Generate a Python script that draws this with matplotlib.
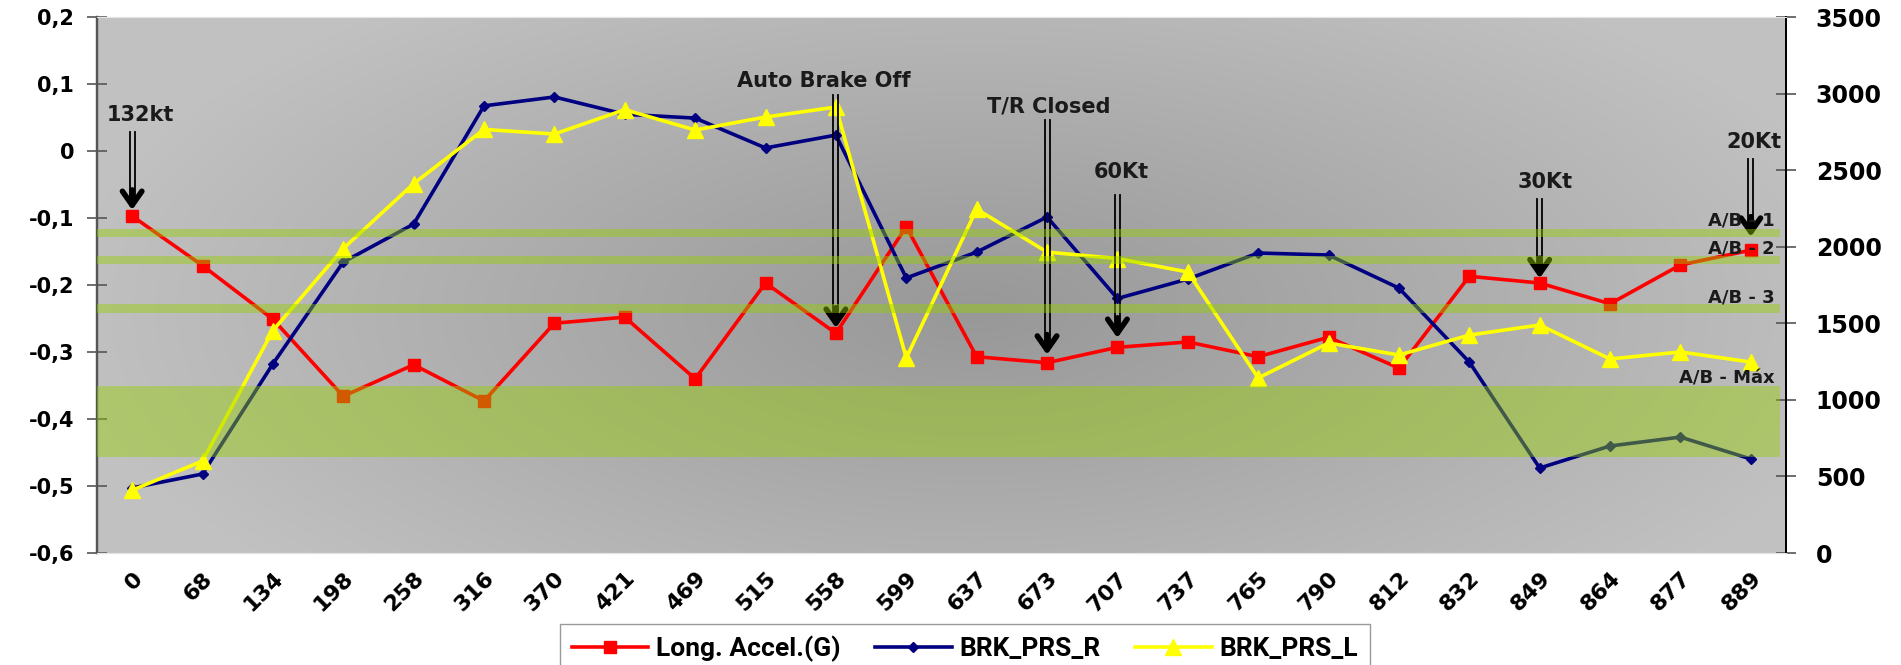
import numpy as np
import matplotlib
matplotlib.use('Agg')
from matplotlib import pyplot as plt
from matplotlib.patches import Rectangle
from matplotlib.transforms import blended_transform_factory, offset_copy

cats = ['0', '68', '134', '198', '258', '316', '370', '421', '469', '515', '558', '599',
        '637', '673', '707', '737', '765', '790', '812', '832', '849', '864', '877', '889']
long_accel = [-0.097, -0.171, -0.251, -0.366, -0.319, -0.373, -0.257, -0.248, -0.340, -0.197,
              -0.272, -0.113, -0.307, -0.316, -0.293, -0.285, -0.307, -0.278, -0.324, -0.187,
              -0.197, -0.228, -0.170, -0.148]
brk_prs_r = [425, 516, 1235, 1900, 2148, 2920, 2978, 2865, 2840, 2645, 2729, 1796,
             1965, 2194, 1662, 1789, 1959, 1946, 1730, 1247, 555, 699, 757, 614]
brk_prs_l = [410, 601, 1453, 1988, 2412, 2766, 2736, 2895, 2762, 2847, 2912, 1273,
             2246, 1965, 1923, 1835, 1143, 1371, 1293, 1423, 1489, 1267, 1313, 1247]

# A/B bands on the acceleration axis (low, high)
bands = [(-0.128, -0.1164), (-0.169, -0.157), (-0.242, -0.229), (-0.457, -0.351)]
band_labels = ['A/B - 1', 'A/B - 2', 'A/B - 3', 'A/B - Máx']
band_label_y = [-0.103, -0.145, -0.218, -0.340]

# event arrows: label, category index, text y, arrow top, arrow tip
events = [('132kt', 0, 0.054, 0.028, -0.088),
          ('Auto Brake Off', 10, 0.104, 0.084, -0.264),
          ('T/R Closed', 13, 0.067, 0.046, -0.304),
          ('60Kt', 14, -0.031, -0.066, -0.279),
          ('30Kt', 20, -0.046, -0.072, -0.190),
          ('20Kt', 23, 0.013, -0.012, -0.128)]
text_dx = [0.12, -0.17, 0.03, 0.06, 0.08, 0.05]

fig = plt.figure(figsize=(19.01, 6.65), dpi=100)
ax1 = fig.add_axes([0.051, 0.1684, 0.8885, 0.806])
ax2 = ax1.twinx()
x = np.arange(len(cats))

# radial grey background
gx, gy = np.meshgrid(np.linspace(0, 1, 300), np.linspace(0, 1, 120))
r = np.sqrt(((gx - 0.52) / 0.55) ** 2 + ((gy - 0.55) / 0.75) ** 2)
g = 0.595 + 0.165 * np.clip(r, 0, 1)
ax1.imshow(np.dstack([g, g, g]), extent=[0, 1, 0, 1], transform=ax1.transAxes,
           aspect='auto', zorder=0, interpolation='bilinear')
ax1.set_facecolor('none')

ax1.plot(x, long_accel, color='#ff0000', lw=2.6, marker='s', ms=9, zorder=3,
         label='Long. Accel.(G)')
l2, = ax2.plot(x, brk_prs_r, color='#000080', lw=2.6, marker='D', ms=5.5, zorder=3,
               label='BRK_PRS_R')
l3, = ax2.plot(x, brk_prs_l, color='#ffff00', lw=2.6, marker='^', ms=12, zorder=4,
               label='BRK_PRS_L')

ax1.set_xlim(-0.5, len(cats) - 0.5)
ax1.set_ylim(-0.6, 0.2)
ax2.set_ylim(0, 3500)
ax1.set_yticks(np.arange(-0.6, 0.21, 0.1))
ax1.set_yticklabels(['-0,6', '-0,5', '-0,4', '-0,3', '-0,2', '-0,1', '0', '0,1', '0,2'])
ax2.set_yticks(np.arange(0, 3501, 500))

ax1.set_xticks(x)
ax1.set_xticklabels(cats, rotation=45, ha='right', va='top', rotation_mode='anchor',
                    fontsize=16, fontweight='bold')
ax1.tick_params(axis='x', length=0, pad=11)
ax1.tick_params(axis='y', direction='inout', length=15, width=1.2, color='#555555',
                labelsize=15, pad=9)
ax2.tick_params(axis='y', direction='inout', length=15, width=1.2, color='#555555',
                labelsize=17, pad=14)
for lab in ax1.get_yticklabels() + ax2.get_yticklabels():
    lab.set_fontweight('bold')

for ax in (ax1, ax2):
    ax.spines['top'].set_color('#e4e4e4')
    ax.spines['bottom'].set_color('#e4e4e4')
    ax.spines['left'].set_color('#555555')
    ax.spines['left'].set_linewidth(1.6)
    ax.spines['right'].set_color('#000000')
    ax.spines['right'].set_linewidth(1.4)

band_tf = blended_transform_factory(ax2.transAxes, ax1.transData)
for lo, hi in bands:
    ax2.add_patch(Rectangle((0, lo), 0.9965, hi - lo, transform=band_tf,
                            facecolor='#96d000', alpha=0.43, lw=0, zorder=6))
for lab, yy in zip(band_labels, band_label_y):
    ax2.text(0.9935, yy, lab, transform=band_tf, ha='right', va='center',
             fontsize=13, fontweight='bold', color='#1a1a1a', zorder=7)

left_tf = offset_copy(ax1.transData, fig=fig, x=-2.5, y=0, units='dots')
right_tf = offset_copy(ax1.transData, fig=fig, x=2.5, y=0, units='dots')
for (lab, i, ty, top, tip), dx in zip(events, text_dx):
    ax2.plot([i, i], [top, tip + 0.02], color='black', lw=1.3, transform=left_tf, zorder=5)
    ax2.plot([i, i], [top, tip + 0.02], color='black', lw=1.3, transform=right_tf, zorder=5)
    ax2.annotate('', xy=(i, tip), xytext=(i, tip + 0.03), xycoords=ax1.transData,
                 textcoords=ax1.transData,
                 arrowprops=dict(arrowstyle='->,head_length=1.0,head_width=0.7', lw=4,
                                 color='black', shrinkA=0, shrinkB=0), zorder=5)
    ax2.text(i + dx, ty, lab, transform=ax1.transData, ha='center', va='center',
             fontsize=15, fontweight='bold', color='#1a1a1a', zorder=7)

h1, lb1 = ax1.get_legend_handles_labels()
leg = fig.legend(h1 + [l2, l3], lb1 + ['BRK_PRS_R', 'BRK_PRS_L'], loc='upper center',
                 bbox_to_anchor=(0.5076, 0.062), ncol=3, frameon=True, fancybox=False,
                 edgecolor='#808080', handlelength=2.9, handletextpad=0.3,
                 columnspacing=1.3,
                 prop={'family': ['Liberation Sans Narrow', 'Roboto'], 'weight': 'bold',
                       'size': 19},
                 borderpad=0.45, borderaxespad=0)
leg.get_frame().set_linewidth(1.0)

fig.savefig('out.png', dpi=100, facecolor='white')
